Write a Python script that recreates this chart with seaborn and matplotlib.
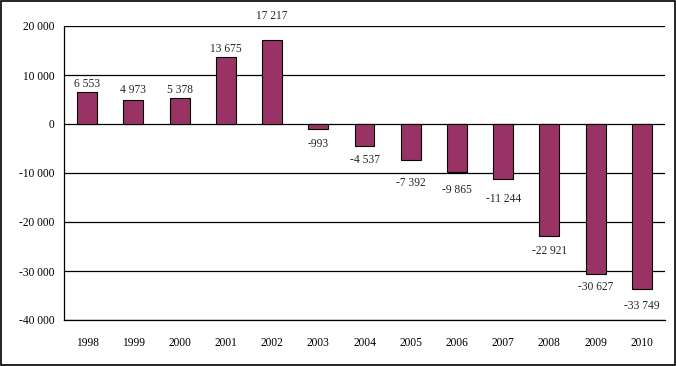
import matplotlib
matplotlib.use("Agg")
import matplotlib.pyplot as plt
import matplotlib.ticker as mticker
import seaborn as sns
import pandas as pd
import numpy as np

years = ["1998", "1999", "2000", "2001", "2002", "2003", "2004",
         "2005", "2006", "2007", "2008", "2009", "2010"]
values = [6553, 4973, 5378, 13675, 17217, -993, -4537,
          -7392, -9865, -11244, -22921, -30627, -33749]

# label distance (pixels) from bar end to label centre, as placed in the reference
label_gap_px = [8, 10, 8, 8, 24, 15, 14, 23, 18, 20, 15, 13, 17]

def fmt(v):
    s = f"{abs(int(v)):,}".replace(",", " ")
    return ("-" if v < 0 else "") + s

df = pd.DataFrame({"year": years, "value": values})

sns.set_style("white")
plt.rcParams['font.family'] = ['Liberation Serif', 'DejaVu Serif']

fig = plt.figure(figsize=(6.76, 3.66), dpi=100)
ax = fig.add_axes([64/676, 1-320/366, (665-64)/676, (320-26)/366])

sns.barplot(data=df, x="year", y="value", color="#993366", saturation=1,
            width=0.43, edgecolor="black", linewidth=0.8, ax=ax, zorder=3)

ax.set_ylim(-40000, 20000)
ax.set_xlim(-0.5, len(years) - 0.5)
ax.yaxis.set_major_locator(mticker.MultipleLocator(10000))
ax.yaxis.set_major_formatter(mticker.FuncFormatter(lambda v, p: fmt(v)))
ax.yaxis.grid(True, color="black", linewidth=0.9, zorder=0)
ax.set_axisbelow(True)

ax.set_xticks(np.arange(len(years)))
ax.set_xticklabels(years)
ax.set_xticks(np.arange(-0.5, len(years), 1.0), minor=True)
ax.tick_params(axis="x", which="major", length=0, pad=12, labelsize=8.3)
ax.tick_params(axis="x", which="minor", length=4, width=0.8, color="black", direction="out")
ax.tick_params(axis="y", length=4, width=0.8, color="black", direction="out", labelsize=8.3, pad=3)
ax.tick_params(axis="both", colors="black")

for s in ["top", "right"]:
    ax.spines[s].set_visible(False)
for s in ["left", "bottom"]:
    ax.spines[s].set_color("black")
    ax.spines[s].set_linewidth(0.9)

ax.set_xlabel("")
ax.set_ylabel("")

for i, v in enumerate(values):
    off = label_gap_px[i] * 0.72
    ax.annotate(fmt(v), (i, v), xytext=(0, off if v >= 0 else -off),
                textcoords="offset points", ha="center", va="center",
                fontsize=8.3, annotation_clip=False)

fig.patches.append(plt.Rectangle((0.002, 0.003), 0.996, 0.994, transform=fig.transFigure,
                                 fill=False, edgecolor="black", linewidth=1.2))

fig.savefig("out.png", dpi=100)
